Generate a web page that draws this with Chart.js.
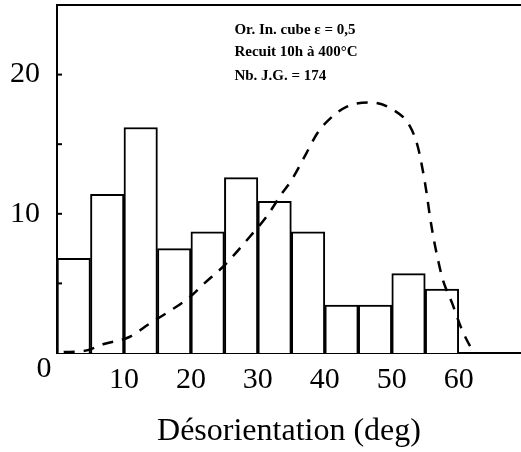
<!DOCTYPE html>
<html>
<head>
<meta charset="utf-8">
<script src="https://cdn.jsdelivr.net/npm/chart.js@4"></script>
<style>
  body { margin: 0; background: #fff; }
  #wrap { width: 521px; height: 452px; }
</style>
</head>
<body>
<div id="wrap"><canvas id="histo"></canvas></div>
<script>
// histogram bins (deg, bin centres) and frequencies (%)
const binCentres = [2.5, 7.5, 12.5, 17.5, 22.5, 27.5, 32.5, 37.5, 42.5, 47.5, 52.5, 57.5];
const frequencies = [6.8, 11.4, 16.2, 7.5, 8.7, 12.6, 10.9, 8.7, 3.45, 3.45, 5.7, 4.6];

// dashed theoretical curve
const curveX = [1, 4, 7, 10.8, 13.8, 17.1, 19.8, 22, 25, 28.7, 31.3, 33.5, 35, 37.3, 38.9, 40.7, 43.3, 46.7, 50.1, 52.7, 53.9, 54.6, 55.2, 55.7, 56.3, 56.9, 57.6, 59, 60.5, 62.1, 62.6];
const curveY = [0.07, 0.14, 0.65, 1.15, 2.1, 3.1, 4.0, 5.0, 6.3, 8.3, 9.8, 11.4, 12.4, 14.4, 15.8, 16.8, 17.7, 18.0, 17.5, 16.3, 14.8, 13.2, 11.5, 9.8, 8.1, 6.7, 5.3, 3.6, 1.65, 0.2, 0];

const labelledY = [10, 20];
const annotation = ['Or. In. cube \u03b5 = 0,5', 'Recuit 10h \u00e0 400\u00b0C', 'Nb. J.G. = 174'];

const SERIF = '"Liberation Serif", "DejaVu Serif", serif';

const framePlugin = {
    id: 'frame',
    afterDraw(chart) {
        const { ctx, chartArea, scales } = chart;
        const x = scales.x, y = scales.y;
        ctx.save();
        ctx.strokeStyle = '#000';
        ctx.lineWidth = 2;
        // top border
        ctx.beginPath();
        ctx.moveTo(chartArea.left, chartArea.top);
        ctx.lineTo(chartArea.right, chartArea.top);
        ctx.stroke();
        // small inward ticks on the y axis
        y.ticks.forEach(t => {
            if (t.value === 0) return;
            const py = y.getPixelForValue(t.value);
            ctx.beginPath();
            ctx.moveTo(chartArea.left, py);
            ctx.lineTo(chartArea.left + 5, py);
            ctx.stroke();
        });
        // the lone "0" in the corner
        ctx.fillStyle = '#000';
        ctx.font = '30px ' + SERIF;
        ctx.textAlign = 'center';
        ctx.textBaseline = 'top';
        ctx.fillText('0', x.getPixelForValue(0) - 13, x.top + x.options.ticks.padding - 8);
        // annotation block
        ctx.font = 'bold 15px ' + SERIF;
        ctx.textAlign = 'left';
        ctx.textBaseline = 'middle';
        const ax = x.getPixelForValue(26.5);
        [23.2, 21.6, 19.9].forEach((v, i) => {
            ctx.fillText(annotation[i], ax, y.getPixelForValue(v));
        });
        ctx.restore();
    }
};

new Chart(document.getElementById('histo'), {
    data: {
        datasets: [
            {
                type: 'line',
                order: 0,
                data: curveX.map((v, i) => ({ x: v, y: curveY[i] })),
                borderColor: '#000',
                borderWidth: 2.5,
                borderDash: [11, 9],
                pointRadius: 0,
                fill: false,
                cubicInterpolationMode: 'monotone'
            },
            {
                type: 'bar',
                order: 1,
                data: binCentres.map((v, i) => ({ x: v, y: frequencies[i] })),
                backgroundColor: '#fff',
                borderColor: '#000',
                borderWidth: 2,
                barPercentage: 1,
                categoryPercentage: 1
            }
        ]
    },
    options: {
        responsive: true,
        maintainAspectRatio: false,
        animation: false,
        layout: { padding: { top: 5, right: 0, left: 0, bottom: 0 } },
        plugins: { legend: { display: false }, tooltip: { enabled: false } },
        scales: {
            x: {
                type: 'linear',
                offset: false,
                min: 0,
                max: 69.3,
                afterFit: s => { s.height = 99; s.paddingLeft = 0; s.paddingRight = 0; },
                grid: { display: false, drawTicks: false },
                border: { display: true, color: '#000', width: 2 },
                ticks: {
                    stepSize: 10,
                    includeBounds: false,
                    padding: 9,
                    color: '#000',
                    font: { family: SERIF, size: 30 },
                    maxRotation: 0,
                    callback: v => (v === 0 ? '' : v)
                },
                title: {
                    display: true,
                    text: 'D\u00e9sorientation (deg)',
                    color: '#000',
                    font: { family: SERIF, size: 32 },
                    padding: { top: 0, bottom: 1 }
                }
            },
            y: {
                min: 0,
                max: 25,
                afterFit: s => { s.width = 57; s.paddingTop = 0; s.paddingBottom = 0; },
                grid: { display: false, drawTicks: false },
                border: { display: true, color: '#000', width: 2 },
                ticks: {
                    stepSize: 5,
                    includeBounds: false,
                    padding: 17,
                    color: '#000',
                    font: { family: SERIF, size: 30 },
                    callback: v => (labelledY.includes(v) ? v : '')
                }
            }
        }
    },
    plugins: [framePlugin]
});
</script>
</body>
</html>
